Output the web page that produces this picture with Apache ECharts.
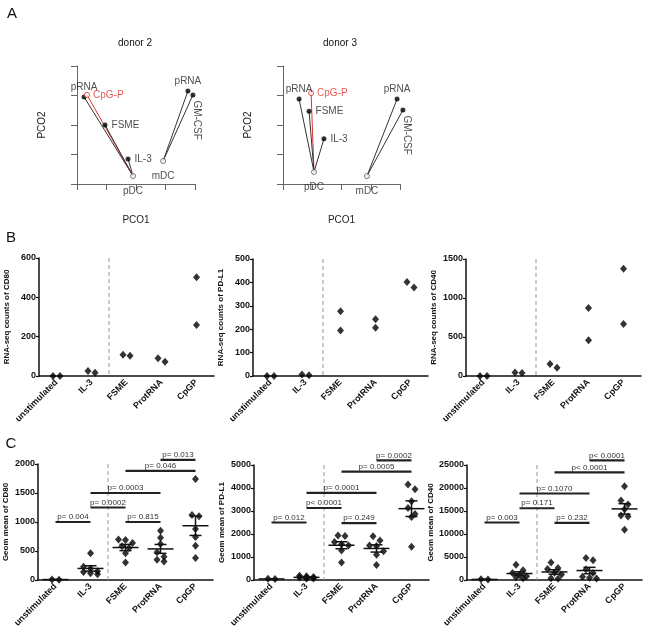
<!DOCTYPE html>
<html>
<head>
<meta charset="utf-8">
<script src="https://cdn.jsdelivr.net/npm/echarts@6/dist/echarts.min.js"></script>
<style>
html, body { margin: 0; padding: 0; background: #fff; }
#main { width: 648px; height: 632px; }
</style>
</head>
<body>
<div id="main"></div>
<script>
// ---- panel A: PCO positions (the original axes carry no tick labels)
const pdcStimuli = ['pRNA', 'CpG-P', 'FSME', 'IL-3'];
const mdcStimuli = ['pRNA', 'GM-CSF'];

const donor2PdcOrigin = [1.90, 0.27];
const donor2PdcX = [0.24, 0.34, 0.95, 1.73];
const donor2PdcY = [2.95, 3.02, 2.00, 0.85];
const donor2MdcOrigin = [2.92, 0.78];
const donor2MdcX = [3.76, 3.93];
const donor2MdcY = [3.15, 3.02];

const donor3PdcOrigin = [1.06, 0.41];
const donor3PdcX = [0.55, 0.96, 0.89, 1.40];
const donor3PdcY = [2.88, 3.08, 2.47, 1.53];
const donor3MdcOrigin = [2.87, 0.27];
const donor3MdcX = [3.90, 4.10];
const donor3MdcY = [2.88, 2.51];

// ---- panels B and C
const conditions = ['unstimulated', 'IL-3', 'FSME', 'ProtRNA', 'CpGP'];

const rnaCD80 = [[0, 0], [17, 25], [103, 108], [73, 90], [502, 259]];
const rnaPDL1 = [[0, 0], [3, 6], [277, 194], [243, 206], [378, 402]];
const rnaCD40 = [[0, 0], [38, 45], [107, 154], [872, 457], [1376, 667]];

const geoCD80 = [
  [5, 10],
  [460, 230, 200, 150, 140, 115, 100],
  [700, 690, 640, 580, 550, 460, 300],
  [850, 730, 620, 480, 400, 350, 320],
  [1740, 1120, 1100, 880, 740, 590, 380]
];
const geoPDL1 = [
  [40, 50],
  [190, 160, 130, 110, 90, 70, 60],
  [1930, 1910, 1650, 1550, 1500, 1280, 760],
  [1900, 1720, 1500, 1480, 1250, 1100, 650],
  [4150, 3950, 3420, 3130, 2870, 2740, 1450]
];
const geoCD40 = [
  [100, 150],
  [3300, 2100, 1500, 1100, 800, 600, 400],
  [3800, 2600, 2400, 1600, 1200, 400, 250],
  [4800, 4300, 2300, 1500, 700, 500, 300],
  [20400, 17300, 16400, 15400, 14000, 13800, 10900]
];

// comparisons, same pairs in every C panel
const comparePairs = [[0, 1], [1, 2], [1, 3], [2, 3], [2, 4], [3, 4]];
const pCD80 = ['p= 0.004', 'p= 0.0002', 'p= 0.0003', 'p= 0.815', 'p= 0.046', 'p= 0.013'];
const barCD80 = [1000, 1250, 1500, 1000, 1880, 2070];
const pPDL1 = ['p= 0.012', 'p< 0.0001', 'p= 0.0001', 'p= 0.249', 'p= 0.0005', 'p= 0.0002'];
const barPDL1 = [2500, 3130, 3790, 2470, 4710, 5200];
const pCD40 = ['p= 0.003', 'p= 0.171', 'p= 0.1070', 'p= 0.232', 'p< 0.0001', 'p< 0.0001'];
const barCD40 = [12500, 15600, 18800, 12400, 23400, 26000];

const FONT = 'Liberation Sans, Arial, sans-serif';
const RED = '#e0302a';

let myChart = echarts.init(document.getElementById('main'));

let grids = [], xAxes = [], yAxes = [], series = [];

// label placement for panel A, by stimulus name
const pcoLabel = {
  'pRNA': { position: 'top', distance: 2 },
  'CpG-P': { position: 'right', distance: 3, color: RED },
  'FSME': { position: 'right', distance: 4 },
  'IL-3': { position: 'right', distance: 4 },
  'GM-CSF': { position: 'bottom', distance: 0, rotate: -90, align: 'left', verticalAlign: 'middle', offset: [3, -4] }
};

function pcoPanel(box, pdcOrigin, pdcX, pdcY, mdcOrigin, mdcX, mdcY) {
  let gi = grids.length;
  grids.push(box);
  xAxes.push({
    gridIndex: gi, type: 'value', min: 0, max: 4, interval: 1, offset: 17,
    name: 'PCO1', nameLocation: 'middle', nameGap: 14,
    nameTextStyle: { fontSize: 10, fontFamily: FONT, color: '#222' },
    axisLine: { lineStyle: { color: '#666' } },
    axisTick: { length: 6, lineStyle: { color: '#666' } },
    axisLabel: { show: false }, splitLine: { show: false }
  });
  yAxes.push({
    gridIndex: gi, type: 'value', min: 0, max: 4, interval: 1, offset: 17,
    name: 'PCO2', nameLocation: 'middle', nameGap: 13,
    nameTextStyle: { fontSize: 10, fontFamily: FONT, color: '#222' },
    axisLine: { show: true, lineStyle: { color: '#666' } },
    axisTick: { show: true, length: 6, lineStyle: { color: '#666' } },
    axisLabel: { show: false }, splitLine: { show: false }
  });

  let segs = [], dots = [], origins = [];
  pdcStimuli.forEach((s, i) => {
    let p = [pdcX[i], pdcY[i]];
    segs.push({ coords: [pdcOrigin, p], lineStyle: { color: s === 'CpG-P' ? RED : '#333' } });
    dots.push({ name: s, value: p, label: pcoLabel[s], hollow: s === 'CpG-P' });
  });
  mdcStimuli.forEach((s, i) => {
    let p = [mdcX[i], mdcY[i]];
    segs.push({ coords: [mdcOrigin, p] });
    dots.push({ name: s, value: p, label: pcoLabel[s] });
  });
  origins.push({ name: 'pDC', value: pdcOrigin }, { name: 'mDC', value: mdcOrigin });

  series.push({
    type: 'lines', coordinateSystem: 'cartesian2d', xAxisIndex: gi, yAxisIndex: gi,
    clip: false, silent: true, z: 2,
    lineStyle: { width: 1, color: '#333', opacity: 1 },
    data: segs
  });
  series.push({
    type: 'scatter', xAxisIndex: gi, yAxisIndex: gi, clip: false, silent: true, z: 3,
    symbol: 'circle', symbolSize: 5,
    itemStyle: { color: '#000' },
    label: { show: true, formatter: '{b}', fontSize: 10, fontFamily: FONT, color: '#222' },
    data: dots.map(d => d.hollow
      ? { name: d.name, value: d.value, label: d.label, symbolSize: 5,
          itemStyle: { color: '#fff', borderColor: RED, borderWidth: 1 } }
      : { name: d.name, value: d.value, label: d.label })
  });
  series.push({
    type: 'scatter', xAxisIndex: gi, yAxisIndex: gi, clip: false, silent: true, z: 3,
    symbol: 'circle', symbolSize: 5,
    itemStyle: { color: '#fff', borderColor: '#555', borderWidth: 1 },
    label: { show: true, formatter: '{b}', position: 'bottom', distance: 7,
             fontSize: 10, fontFamily: FONT, color: '#222' },
    data: origins
  });
}

pcoPanel({ left: 77, top: 66, width: 118, height: 118 },
  donor2PdcOrigin, donor2PdcX, donor2PdcY, donor2MdcOrigin, donor2MdcX, donor2MdcY);
pcoPanel({ left: 283, top: 66, width: 117, height: 118 },
  donor3PdcOrigin, donor3PdcX, donor3PdcY, donor3MdcOrigin, donor3MdcX, donor3MdcY);

// Prism-like dot spreading: points closer than one symbol share a centred row
function spread(values, pxPerUnit, step, maxRow) {
  let order = values.map((v, i) => i).sort((a, b) => values[b] - values[a]);
  let offsets = values.map(() => 0);
  let row = [];
  let flush = () => row.forEach((idx, k) => { offsets[idx] = (k - (row.length - 1) / 2) * step; });
  order.forEach(idx => {
    if (row.length && ((values[row[0]] - values[idx]) * pxPerUnit > step - 1 || row.length >= maxRow)) {
      flush(); row = [];
    }
    row.push(idx);
  });
  flush();
  return offsets;
}
const mean = a => a.reduce((s, v) => s + v, 0) / a.length;
const sem = a => {
  let m = mean(a);
  return Math.sqrt(a.reduce((s, v) => s + (v - m) * (v - m), 0) / (a.length - 1) / a.length);
};

const bcPanels = [
  { box: { left: 39, top: 258, width: 175, height: 118 }, values: rnaCD80, max: 600, interval: 200, title: 'RNA-seq counts of CD80' },
  { box: { left: 253, top: 259, width: 175, height: 117 }, values: rnaPDL1, max: 500, interval: 100, title: 'RNA-seq counts of PD-L1' },
  { box: { left: 466, top: 259, width: 175, height: 117 }, values: rnaCD40, max: 1500, interval: 500, title: 'RNA-seq counts of CD40' },
  { box: { left: 38, top: 464, width: 175, height: 116 }, values: geoCD80, max: 2000, interval: 500, title: 'Geom mean of CD80', bars: barCD80, pLabels: pCD80 },
  { box: { left: 254, top: 465, width: 175, height: 115 }, values: geoPDL1, max: 5000, interval: 1000, title: 'Geom mean of PD-L1', bars: barPDL1, pLabels: pPDL1 },
  { box: { left: 467, top: 465, width: 175, height: 115 }, values: geoCD40, max: 25000, interval: 5000, title: 'Geom mean of CD40', bars: barCD40, pLabels: pCD40 }
];

bcPanels.forEach(pn => {
  let gi = grids.length;
  grids.push(pn.box);
  xAxes.push({
    gridIndex: gi, type: 'category', data: conditions,
    axisLine: { lineStyle: { color: '#111', width: 1.5 } },
    axisTick: { alignWithLabel: true, length: 3, lineStyle: { color: '#111', width: 1.2 } },
    axisLabel: { rotate: 45, margin: 5, fontSize: 9, fontWeight: 'bold', fontFamily: FONT, color: '#111' }
  });
  yAxes.push({
    gridIndex: gi, type: 'value', min: 0, max: pn.max, interval: pn.interval,
    name: pn.title, nameLocation: 'middle', nameGap: 28,
    nameTextStyle: { fontSize: 8, fontWeight: 'bold', fontFamily: FONT, color: '#111' },
    axisLine: { show: true, lineStyle: { color: '#111', width: 1.5 } },
    axisTick: { show: true, length: 3, lineStyle: { color: '#111', width: 1.2 } },
    axisLabel: { margin: 3, fontSize: 9, fontWeight: 'bold', fontFamily: FONT, color: '#111',
                 formatter: v => String(v) },
    splitLine: { show: false }
  });

  // dashed separator after IL-3
  series.push({
    type: 'custom', xAxisIndex: gi, yAxisIndex: gi, silent: true, z: 1,
    data: [[1, 0]],
    renderItem: (params, api) => {
      let a = api.coord([api.value(0), 0]);
      let b = api.coord([api.value(0) + 1, 0]);
      let cs = params.coordSys;
      let x = (a[0] + b[0]) / 2;
      return { type: 'line', shape: { x1: x, y1: cs.y, x2: x, y2: cs.y + cs.height },
               style: { stroke: '#999', lineWidth: 1, lineDash: [4, 3] } };
    }
  });

  let pxPerUnit = pn.box.height / pn.max;
  let pts = [];
  pn.values.forEach((vals, ci) => {
    let off = spread(vals, pxPerUnit, 7, 3);
    vals.forEach((v, k) => pts.push({ value: [ci, v], symbolOffset: [off[k], 0] }));
  });
  series.push({
    type: 'scatter', xAxisIndex: gi, yAxisIndex: gi, silent: true, z: 4,
    symbol: 'diamond', symbolSize: [7, 8], itemStyle: { color: '#000' },
    data: pts
  });

  if (pn.bars) {
    // mean with SEM whiskers
    series.push({
      type: 'custom', xAxisIndex: gi, yAxisIndex: gi, silent: true, z: 5,
      encode: { x: 0, y: 1 },
      data: pn.values.map((vals, ci) => [ci, mean(vals), sem(vals)]),
      renderItem: (params, api) => {
        let c = api.coord([api.value(0), api.value(1)]);
        let hi = api.coord([api.value(0), api.value(1) + api.value(2)]);
        let lo = api.coord([api.value(0), api.value(1) - api.value(2)]);
        let st = { stroke: '#111', lineWidth: 1.5 };
        return { type: 'group', children: [
          { type: 'line', shape: { x1: c[0] - 13, y1: c[1], x2: c[0] + 13, y2: c[1] }, style: st },
          { type: 'line', shape: { x1: c[0], y1: hi[1], x2: c[0], y2: lo[1] }, style: st },
          { type: 'line', shape: { x1: c[0] - 6, y1: hi[1], x2: c[0] + 6, y2: hi[1] }, style: st },
          { type: 'line', shape: { x1: c[0] - 6, y1: lo[1], x2: c[0] + 6, y2: lo[1] }, style: st }
        ] };
      }
    });
    // p-value bars
    let labels = pn.pLabels;
    series.push({
      type: 'custom', xAxisIndex: gi, yAxisIndex: gi, silent: true, z: 5, clip: false,
      encode: { x: 0, y: 2 },
      data: comparePairs.map((p, k) => [p[0], p[1], pn.bars[k]]),
      renderItem: (params, api) => {
        let a = api.coord([api.value(0), api.value(2)]);
        let b = api.coord([api.value(1), api.value(2)]);
        return { type: 'group', children: [
          { type: 'line', shape: { x1: a[0], y1: a[1], x2: b[0], y2: b[1] },
            style: { stroke: '#222', lineWidth: 2.2 } },
          { type: 'text', x: (a[0] + b[0]) / 2, y: a[1] - 1,
            style: { text: labels[params.dataIndex], align: 'center', verticalAlign: 'bottom',
                     font: '8px ' + FONT, fill: '#333' } }
        ] };
      }
    });
  }
});

const panelText = (x, y, text, size) => ({
  type: 'text', x: x, y: y,
  style: { text: text, align: 'center', verticalAlign: 'middle', font: size + 'px ' + FONT, fill: '#111' }
});

myChart.setOption({
  animation: false,
  grid: grids,
  xAxis: xAxes,
  yAxis: yAxes,
  graphic: [
    panelText(12, 14, 'A', 15),
    panelText(11, 238, 'B', 15),
    panelText(11, 444, 'C', 15),
    panelText(135, 43, 'donor 2', 10),
    panelText(340, 43, 'donor 3', 10)
  ],
  series: series
});
</script>
</body>
</html>
